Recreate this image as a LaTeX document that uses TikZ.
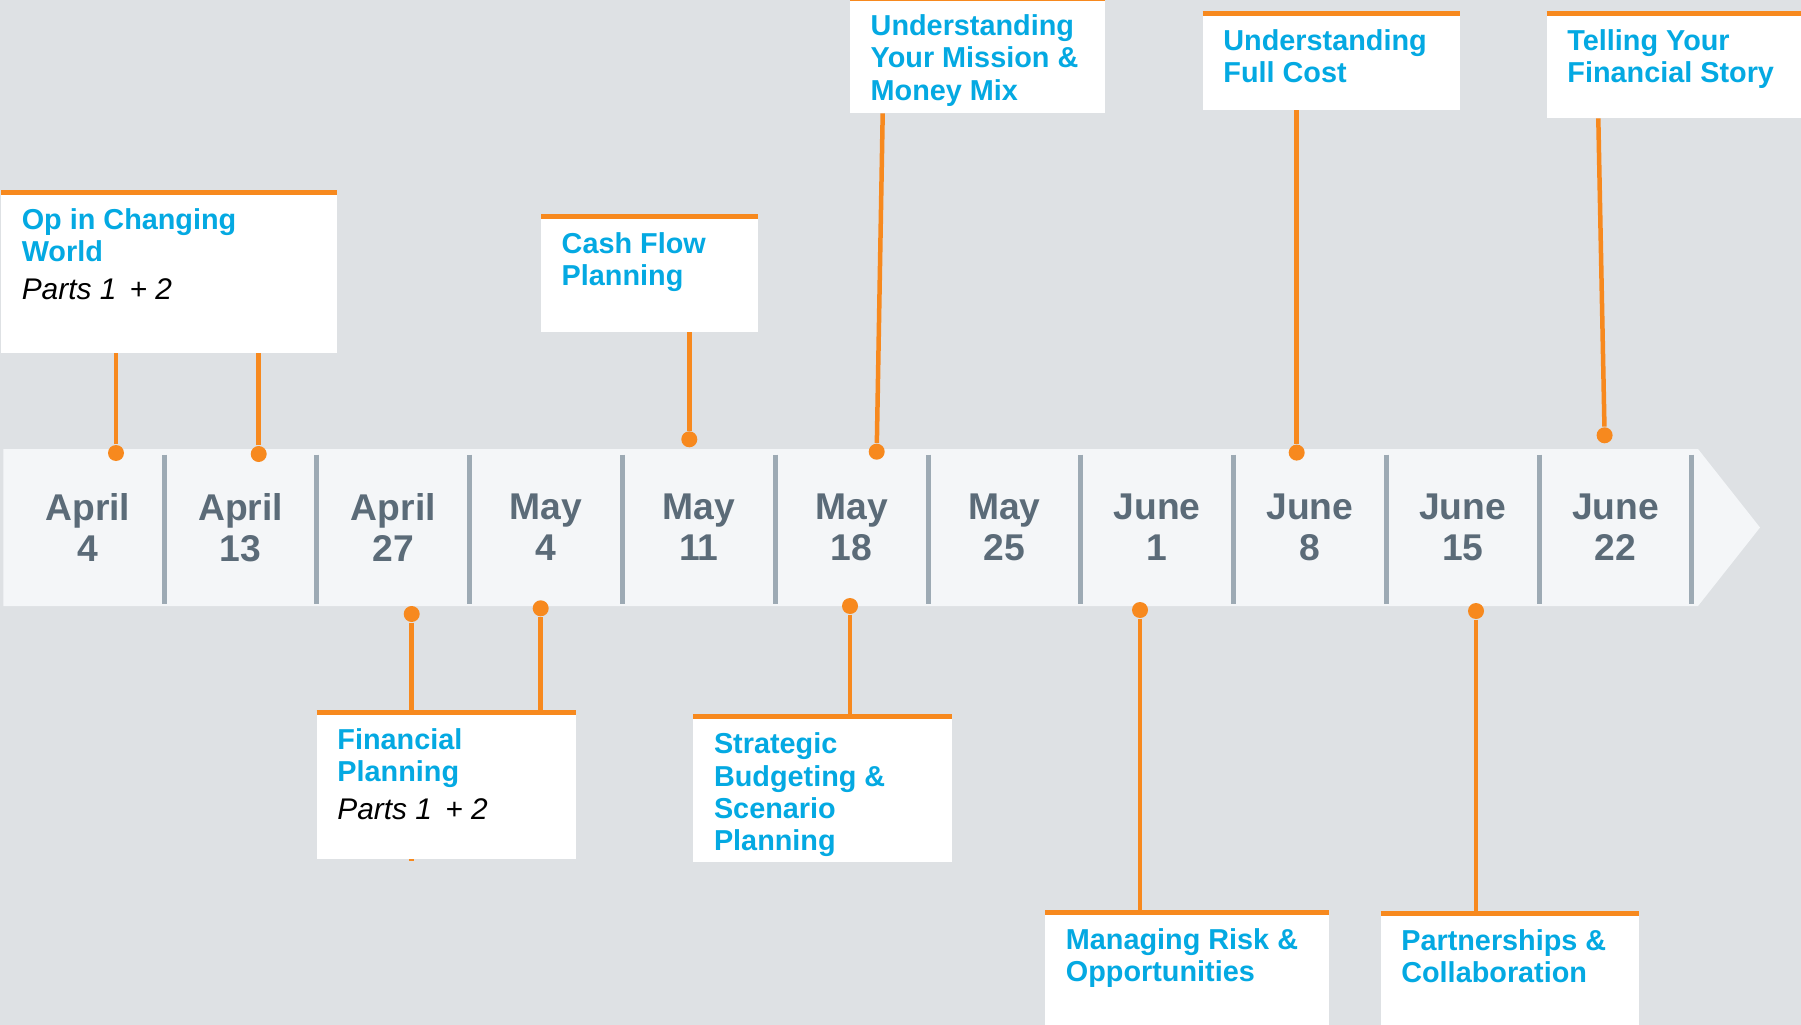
\documentclass[tikz,border=0pt]{standalone}
\usepackage{fontspec}
\setmainfont{Liberation Sans}
\usetikzlibrary{positioning}

\definecolor{tlorange}{HTML}{F7891E}
\definecolor{tlblue}{HTML}{04A9E2}
\definecolor{tlslate}{HTML}{5B6B78}
\definecolor{tlrule}{HTML}{9DAAB4}
\definecolor{tlband}{HTML}{F4F6F8}
\definecolor{tlbg}{HTML}{DEE1E4}

\pgfdeclarelayer{back}
\pgfdeclarelayer{wires}
\pgfsetlayers{back,wires,main}

\tikzset{
  card/.style={fill=white, anchor=north west, inner sep=0, outer sep=0},
  topbar/.style={draw=tlorange, line width=0.05cm},
  topic/.style={align=left, inner sep=0, text=tlblue, font=\fontsize{8.2}{9.2}\selectfont\bfseries},
  date/.style={align=center, inner sep=0, text=tlslate, font=\fontsize{10.6}{11.7}\selectfont\bfseries},
  link/.style={draw=tlorange, line width=0.045cm},
  pin/.style={circle, fill=tlorange, inner sep=0, minimum size=0.16cm},
}
\newcommand{\partsline}{\\[1.5pt]{\normalfont\itshape\fontsize{8.5}{9.2}\selectfont\color{black}Parts 1 \,+\;2}}

\begin{document}
\begin{tikzpicture}
  \useasboundingbox (0,0) rectangle (18.01,-10.25);
  \clip (0,0) rectangle (18.01,-10.25);

  \begin{pgfonlayer}{back}
  \fill[tlbg] (0,0) rectangle (18.01,-10.25);
  % the week band
  \fill[tlband] (0.034,-4.49) -- (16.98,-4.49) -- (17.60,-5.275)
    -- (16.98,-6.06) -- (0.034,-6.06) -- cycle;
  \foreach \i in {0,...,10}
    \draw[tlrule, line width=0.05cm] (1.642+1.5277*\i,-4.545) -- ++(0,-1.49);
  \end{pgfonlayer}
  \foreach \m/\d [count=\i from 0] in {April/4, April/13, April/27, May/4, May/11,
      May/18, May/25, June/1, June/8, June/15, June/22}
    \node[date] (day\i) at (0.878+1.5277*\i,-5.273) {\m\\\d};

  % pins on the band
  \node[pin] (pin1) at (1.16,-4.53) {};
  \node[pin] (pin2) at (2.587,-4.54) {};
  \node[pin] (pin3) at (4.117,-6.14) {};
  \node[pin] (pin4) at (5.407,-6.083) {};
  \node[pin] (pin5) at (6.893,-4.393) {};
  \node[pin] (pin6) at (8.50,-6.06) {};
  \node[pin] (pin7) at (8.767,-4.517) {};
  \node[pin] (pin8) at (11.40,-6.10) {};
  \node[pin] (pin9) at (12.967,-4.526) {};
  \node[pin] (pin10) at (14.76,-6.11) {};
  \node[pin] (pin11) at (16.046,-4.353) {};

  % cards
  \node[card, minimum width=3.36cm, minimum height=1.602cm] (opw) at (0.011,-1.925) {};
  \node[card, minimum width=2.167cm, minimum height=1.152cm] (cash) at (5.41,-2.165) {};
  \node[card, minimum width=2.55cm, minimum height=1.148cm] (mission) at (8.50,0.015) {};
  \node[card, minimum width=2.573cm, minimum height=0.965cm] (fullcost) at (12.027,-0.135) {};
  \node[card, minimum width=2.6cm, minimum height=1.048cm] (story) at (15.467,-0.135) {};
  \node[card, minimum width=2.593cm, minimum height=1.462cm] (finplan) at (3.167,-7.125) {};
  \node[card, minimum width=2.584cm, minimum height=1.449cm] (strategic) at (6.933,-7.168) {};
  \node[card, minimum width=2.838cm, minimum height=1.2cm] (risk) at (10.452,-9.122) {};
  \node[card, minimum width=2.584cm, minimum height=1.2cm] (partner) at (13.806,-9.133) {};

  % links run under the cards
  \begin{pgfonlayer}{wires}
  \draw[link] (pin1) -- (pin1 |- opw.south);
  \draw[link] (pin2) -- (pin2 |- opw.south);
  \draw[link] (pin3) -- ([yshift=-0.025cm]pin3 |- finplan.south);
  \draw[link] (pin4) -- (pin4 |- finplan.north);
  \draw[link] (pin5) -- (pin5 |- cash.south);
  \draw[link] (pin6) -- (pin6 |- strategic.north);
  \draw[link] (pin7) -- ([xshift=0.327cm]mission.south west);
  \draw[link] (pin8) -- (pin8 |- risk.north);
  \draw[link] (pin9) -- (pin9 |- fullcost.south);
  \draw[link] (pin10) -- (pin10 |- partner.north);
  \draw[link] (pin11) -- ([xshift=0.516cm]story.south west);
  \end{pgfonlayer}

  \foreach \c in {opw,cash,mission,fullcost,story,finplan,strategic,risk,partner}
    \draw[topbar] (\c.north west) -- (\c.north east);

  % titles
  \node[topic, below right=0.155cm and 0.2cm of opw.north west] (opw-t)
    {Op in Changing\\World\partsline};
  \node[topic, below right=0.155cm and 0.2cm of cash.north west] (cash-t)
    {Cash Flow\\Planning};
  \node[topic, below right=0.155cm and 0.2cm of mission.north west] (mission-t)
    {Understanding\\Your Mission \&\\Money Mix};
  \node[topic, below right=0.155cm and 0.2cm of fullcost.north west] (fullcost-t)
    {Understanding\\Full Cost};
  \node[topic, below right=0.155cm and 0.2cm of story.north west] (story-t)
    {Telling Your\\Financial Story};
  \node[topic, below right=0.155cm and 0.2cm of finplan.north west] (finplan-t)
    {Financial\\Planning\partsline};
  \node[topic, below right=0.155cm and 0.2cm of strategic.north west] (strategic-t)
    {Strategic\\Budgeting \&\\Scenario\\Planning};
  \node[topic, below right=0.155cm and 0.2cm of risk.north west] (risk-t)
    {Managing Risk \&\\Opportunities};
  \node[topic, below right=0.155cm and 0.2cm of partner.north west] (partner-t)
    {Partnerships \&\\Collaboration};
\end{tikzpicture}
\end{document}
